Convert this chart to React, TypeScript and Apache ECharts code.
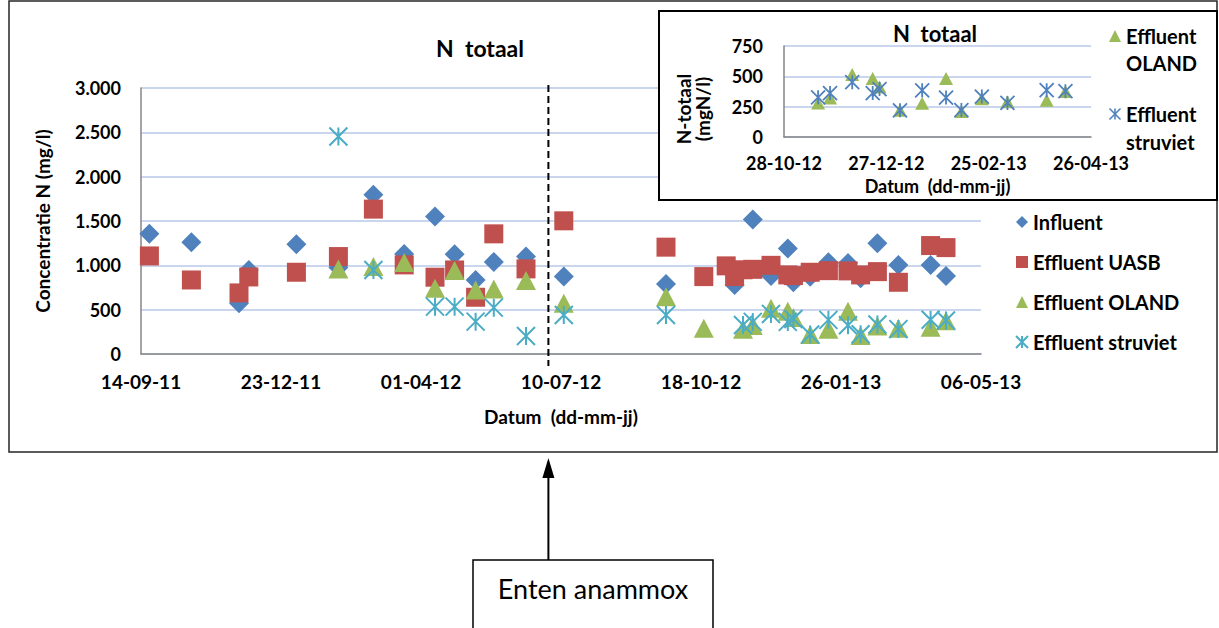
import React, { useEffect, useRef } from 'react';
import * as echarts from 'echarts';

// ---- data ----
const sampleDates = [
  '2011-09-20', '2011-10-20', '2011-11-23', '2011-11-30', '2012-01-03',
  '2012-02-02', '2012-02-27', '2012-03-20', '2012-04-11', '2012-04-25',
  '2012-05-10', '2012-05-23', '2012-06-15', '2012-07-12', '2012-09-23',
  '2012-10-20', '2012-11-05', '2012-11-11', '2012-11-17', '2012-11-24',
  '2012-12-07', '2012-12-19', '2012-12-23', '2013-01-04', '2013-01-17',
  '2013-01-31', '2013-02-09', '2013-02-21', '2013-03-08', '2013-03-31',
  '2013-04-11',
];
const influent = [
  1355, 1261, 572, 948, 1238,
  975, 1795, 1129, 1550, 1125,
  835, 1039, 1099, 873, 790,
  null, null, 779, null, 1517,
  880, 1190, 810, 870, 1035,
  1025, 855, 1250, 1005, 1005,
  880,
];
const effluentUASB = [
  1106, 835, 689, 869, 922,
  1099, 1634, 1005, 866, 948,
  640, 1355, 960, 1502, 1205,
  873, 994, 873, 950, 955,
  1000, 892, 884, 922, 940,
  937, 892, 929, 809, 1223,
  1200,
];
const effluentOLAND = [
  null, null, null, null, null,
  960, 986, 1031, 742, 941,
  723, 734, 828, 572, 647,
  290, null, null, 280, 322,
  515, 482, 412, 220, 278,
  482, 210, 315, 290, 303,
  374,
];
const effluentStruviet = [
  null, null, null, null, null,
  2453, 948, null, 534, 534,
  365, 523, 203, 440, 440,
  null, null, null, 327, 362,
  452, 362, 395, 220, 385,
  325, 222, 333, 281, 386,
  378,
];

const mainAxisStart = '2011-09-14';
const mainAxisEnd = '2013-05-06';
const mainAxisStepDays = 100;
const mainYMax = 3000;
const mainYStep = 500;

const insetAxisStart = '2012-10-28';
const insetAxisEnd = '2013-04-26';
const insetAxisStepDays = 60;
const insetYMax = 750;
const insetYStep = 250;

const anammoxDate = '2012-07-01';

const seriesNames = ['Influent', 'Effluent UASB', 'Effluent OLAND', 'Effluent struviet'];

// ---- helpers ----
const DAY = 86400000;
const utc = (s: string) => {
  const [y, m, d] = s.split('-').map(Number);
  return Date.UTC(y, m - 1, d);
};
const daysFrom = (start: string, s: string) => Math.round((utc(s) - utc(start)) / DAY);
const pad = (n: number) => String(n).padStart(2, '0');
const dateLabel = (start: string) => (v: number) => {
  const dt = new Date(utc(start) + v * DAY);
  return `${pad(dt.getUTCDate())}-${pad(dt.getUTCMonth() + 1)}-${pad(dt.getUTCFullYear() % 100)}`;
};
const thousands = (v: number) =>
  v >= 1000 ? `${Math.floor(v / 1000)}.${String(v % 1000).padStart(3, '0')}` : String(v);

const buildPoints = (start: string, values: (number | null)[], from?: string) =>
  sampleDates
    .map((d, i) => ({ d, v: values[i] }))
    .filter((p) => p.v != null && (!from || utc(p.d) >= utc(from)))
    .map((p) => [daysFrom(start, p.d), p.v as number]);

const FONT = 'Lato, "Open Sans", "DejaVu Sans", sans-serif';
const STAR = 'path://M0,0L20,20M20,0L0,20M10,0L10,20';
const GRID_COLOR = '#B7C9E8';
const AXIS_COLOR = '#868686';

const boldText = (size: number) => ({
  color: '#000',
  fontWeight: 'bold' as const,
  fontSize: size,
  fontFamily: FONT,
});

export default function App() {
  const ref = useRef<HTMLDivElement>(null);

  useEffect(() => {
    if (!ref.current) return;
    const chart = echarts.init(ref.current, undefined, { renderer: 'svg' });

    const option: any = {
      animation: false,
      textStyle: { fontFamily: FONT },
      grid: [
        { left: 141, right: 238, top: 88, bottom: 274 },
        { left: 784, right: 128, top: 46, bottom: 491 },
      ],
      xAxis: [
        {
          type: 'value',
          gridIndex: 0,
          min: 0,
          max: daysFrom(mainAxisStart, mainAxisEnd),
          interval: mainAxisStepDays,
          axisLine: { show: true, lineStyle: { color: AXIS_COLOR, width: 1.5 } },
          axisTick: { show: false },
          splitLine: { show: false },
          axisLabel: {
            ...boldText(19),
            margin: 18,
            showMinLabel: true,
            showMaxLabel: true,
            formatter: dateLabel(mainAxisStart),
          },
          name: 'Datum  (dd-mm-jj)',
          nameLocation: 'middle',
          nameGap: 53,
          nameTextStyle: boldText(19),
        },
        {
          type: 'value',
          gridIndex: 1,
          z: 6,
          min: 0,
          max: daysFrom(insetAxisStart, insetAxisEnd),
          interval: insetAxisStepDays,
          axisLine: { show: true, lineStyle: { color: AXIS_COLOR, width: 1.5 } },
          axisTick: { show: false },
          splitLine: { show: false },
          axisLabel: {
            ...boldText(18),
            margin: 17,
            showMinLabel: true,
            showMaxLabel: true,
            formatter: dateLabel(insetAxisStart),
          },
          name: 'Datum  (dd-mm-jj)',
          nameLocation: 'middle',
          nameGap: 40,
          nameTextStyle: boldText(18),
        },
      ],
      yAxis: [
        {
          type: 'value',
          gridIndex: 0,
          min: 0,
          max: mainYMax,
          interval: mainYStep,
          axisLine: { show: true, lineStyle: { color: AXIS_COLOR, width: 1.5 } },
          axisTick: { show: false },
          splitLine: { show: true, lineStyle: { color: GRID_COLOR, width: 1.5 } },
          axisLabel: { ...boldText(18), margin: 20, formatter: thousands },
          name: 'Concentratie N (mg/l)',
          nameLocation: 'middle',
          nameGap: 89,
          nameTextStyle: boldText(19),
        },
        {
          type: 'value',
          gridIndex: 1,
          z: 6,
          min: 0,
          max: insetYMax,
          interval: insetYStep,
          axisLine: { show: true, lineStyle: { color: AXIS_COLOR, width: 1.5 } },
          axisTick: { show: false },
          splitLine: { show: true, lineStyle: { color: GRID_COLOR, width: 1.5 } },
          axisLabel: { ...boldText(18), margin: 21 },
        },
      ],
      legend: {
        data: seriesNames,
        orient: 'vertical',
        left: 1010,
        top: 207,
        itemWidth: 12,
        itemHeight: 12,
        itemGap: 20,
        selectedMode: false,
        textStyle: { ...boldText(20), lineHeight: 20 },
      },
      series: [
        {
          type: 'scatter',
          name: seriesNames[0],
          xAxisIndex: 0,
          yAxisIndex: 0,
          symbol: 'diamond',
          symbolSize: 20,
          itemStyle: { color: '#4F81BD', opacity: 1 },
          data: buildPoints(mainAxisStart, influent),
        },
        {
          type: 'scatter',
          name: seriesNames[1],
          xAxisIndex: 0,
          yAxisIndex: 0,
          symbol: 'rect',
          symbolSize: 19,
          itemStyle: { color: '#C0504D', opacity: 1 },
          data: buildPoints(mainAxisStart, effluentUASB),
        },
        {
          type: 'scatter',
          name: seriesNames[2],
          xAxisIndex: 0,
          yAxisIndex: 0,
          symbol: 'triangle',
          symbolSize: [20, 19],
          itemStyle: { color: '#9BBB59', opacity: 1 },
          data: buildPoints(mainAxisStart, effluentOLAND),
        },
        {
          type: 'scatter',
          name: seriesNames[3],
          xAxisIndex: 0,
          yAxisIndex: 0,
          symbol: STAR,
          symbolSize: 18,
          itemStyle: { color: 'rgba(0,0,0,0)', borderColor: '#4BACC6', borderWidth: 2, opacity: 1 },
          data: buildPoints(mainAxisStart, effluentStruviet),
        },
        {
          type: 'scatter',
          name: 'inset OLAND',
          xAxisIndex: 1,
          yAxisIndex: 1,
          z: 7,
          symbol: 'triangle',
          symbolSize: [14, 13],
          itemStyle: { color: '#9BBB59', opacity: 1 },
          data: buildPoints(insetAxisStart, effluentOLAND, insetAxisStart),
        },
        {
          type: 'scatter',
          name: 'inset struviet',
          xAxisIndex: 1,
          yAxisIndex: 1,
          z: 7,
          symbol: STAR,
          symbolSize: 14,
          itemStyle: { color: 'rgba(0,0,0,0)', borderColor: '#4F81BD', borderWidth: 1.8, opacity: 1 },
          data: buildPoints(insetAxisStart, effluentStruviet, insetAxisStart),
        },
      ],
    };

    chart.setOption(option);

    const dashX = chart.convertToPixel({ xAxisIndex: 0 }, daysFrom(mainAxisStart, anammoxDate)) as number;
    const topY = chart.convertToPixel({ yAxisIndex: 0 }, mainYMax) as number;
    const baseY = chart.convertToPixel({ yAxisIndex: 0 }, 0) as number;

    const txt = (text: string, x: number, y: number, font: string, align = 'center', z = 8, extra: any = {}) => ({
      type: 'text',
      x,
      y,
      z,
      silent: true,
      ...extra,
      style: {
        text,
        font,
        fill: '#000',
        align,
        verticalAlign: 'middle',
        textAlign: align,
        textVerticalAlign: 'middle',
      },
    });
    const boldFont = (s: number) => `bold ${s}px ${FONT}`;
    const sx = 1115;
    const sy = 114;
    const sr = 5.5;

    chart.setOption({
      graphic: {
        elements: [
          {
            type: 'rect',
            z: 0,
            silent: true,
            shape: { x: 9, y: 1, width: 1208, height: 451 },
            style: { fill: 'none', stroke: '#262626', lineWidth: 1.5 },
          },
          {
            type: 'rect',
            z: 5,
            silent: true,
            shape: { x: 659, y: 11, width: 558, height: 189 },
            style: { fill: '#fff', stroke: '#000', lineWidth: 2 },
          },
          {
            type: 'line',
            z: 3,
            silent: true,
            shape: { x1: dashX, y1: topY - 3, x2: dashX, y2: baseY + 12 },
            style: { stroke: '#000', lineWidth: 2, lineDash: [7, 4] },
          },
          {
            type: 'line',
            z: 3,
            silent: true,
            shape: { x1: dashX, y1: 476, x2: dashX, y2: 560 },
            style: { stroke: '#000', lineWidth: 2 },
          },
          {
            type: 'polygon',
            z: 3,
            silent: true,
            shape: { points: [[dashX - 6, 478], [dashX + 6, 478], [dashX, 458]] },
            style: { fill: '#000' },
          },
          {
            type: 'rect',
            z: 3,
            silent: true,
            shape: { x: 473, y: 560, width: 240, height: 80 },
            style: { fill: '#fff', stroke: '#000', lineWidth: 1.5 },
          },
          txt('Enten anammox', 593, 588, `27px ${FONT}`, 'center', 4),
          txt('N  totaal', 480, 48, boldFont(23), 'center', 4),
          txt('N  totaal', 935, 33, boldFont(22), 'center', 8),
          txt('N-totaal\n(mgN/l)', 693, 109, boldFont(19), 'center', 8, { rotation: Math.PI / 2 }),
          {
            type: 'polygon',
            z: 8,
            silent: true,
            shape: { points: [[1109, 42], [1121, 42], [1115, 30]] },
            style: { fill: '#9BBB59' },
          },
          txt('Effluent', 1126, 36, boldFont(20), 'left'),
          txt('OLAND', 1126, 63, boldFont(20), 'left'),
          {
            type: 'group',
            z: 8,
            silent: true,
            children: [
              { type: 'line', z: 8, shape: { x1: sx - sr, y1: sy - sr, x2: sx + sr, y2: sy + sr }, style: { stroke: '#4F81BD', lineWidth: 1.6 } },
              { type: 'line', z: 8, shape: { x1: sx + sr, y1: sy - sr, x2: sx - sr, y2: sy + sr }, style: { stroke: '#4F81BD', lineWidth: 1.6 } },
              { type: 'line', z: 8, shape: { x1: sx, y1: sy - sr, x2: sx, y2: sy + sr }, style: { stroke: '#4F81BD', lineWidth: 1.6 } },
            ],
          },
          txt('Effluent', 1126, 114, boldFont(20), 'left'),
          txt('struviet', 1126, 142, boldFont(20), 'left'),
        ],
      },
    });

    return () => chart.dispose();
  }, []);

  return (
    <div
      ref={ref}
      style={{ position: 'absolute', left: 0, top: 0, width: 1219, height: 628, background: '#fff' }}
    />
  );
}
